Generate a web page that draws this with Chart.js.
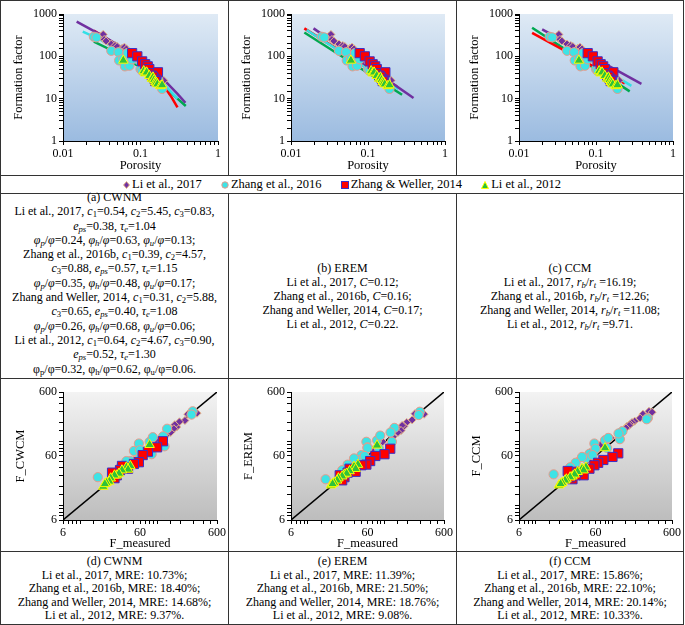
<!DOCTYPE html>
<html>
<head>
<meta charset="utf-8">
<script src="https://cdn.jsdelivr.net/npm/chart.js@4.4.1/dist/chart.umd.min.js"></script>
<style>
  body { margin: 0; background: #fff; font-family: "Liberation Serif", "Times New Roman", serif; color: #000; }
  #page { position: relative; width: 685px; height: 625px; overflow: hidden; }
  .hl { position: absolute; height: 1px; background: #333; }
  .vl { position: absolute; width: 1px; background: #333; }
  canvas { position: absolute; }
  .txt { position: absolute; text-align: center; font-size: 12px; white-space: nowrap; }
  .txt sub { font-size: 0.72em; line-height: 0; vertical-align: -0.25em; }
  #legend { position: absolute; left: 1px; top: 176px; width: 682px; height: 17px; line-height: 17px;
            font-size: 12.5px; text-align: center; white-space: nowrap; }
  #legend span.item { margin: 0 8px; }
  #legend svg { vertical-align: -1px; margin-right: 2px; }
</style>
</head>
<body>
<div id="page">
  <!-- table rules -->
  <div class="hl" style="left:0;top:0;width:684px"></div>
  <div class="hl" style="left:0;top:175px;width:684px"></div>
  <div class="hl" style="left:0;top:193px;width:684px"></div>
  <div class="hl" style="left:0;top:378px;width:684px"></div>
  <div class="hl" style="left:0;top:551px;width:684px"></div>
  <div class="hl" style="left:0;top:624px;width:684px"></div>
  <div class="vl" style="left:0;top:0;height:625px"></div>
  <div class="vl" style="left:683px;top:0;height:625px"></div>
  <div class="vl" style="left:228px;top:0;height:175px"></div>
  <div class="vl" style="left:456px;top:0;height:175px"></div>
  <div class="vl" style="left:228px;top:193px;height:432px"></div>
  <div class="vl" style="left:456px;top:193px;height:432px"></div>

  <canvas id="topA" width="227" height="174" style="left:1px;top:1px"></canvas>
  <canvas id="topB" width="226" height="174" style="left:229px;top:1px"></canvas>
  <canvas id="topC" width="226" height="174" style="left:457px;top:1px"></canvas>

  <div id="legend">
    <span class="item"><svg width="7" height="8"><polygon points="3.5,0.5 6.5,4 3.5,7.5 0.5,4" fill="#7030a0" stroke="#e8b888" stroke-width="1"/></svg>Li et al., 2017</span>
    <span class="item"><svg width="8" height="8"><circle cx="4" cy="4" r="3.2" fill="#3ee3e6" stroke="#e89a8a" stroke-width="1"/></svg>Zhang et al., 2016</span>
    <span class="item"><svg width="8" height="8"><rect x="0.5" y="0.5" width="7" height="7" fill="#ff0000" stroke="#3a2ec8" stroke-width="1"/></svg>Zhang &amp; Weller, 2014</span>
    <span class="item"><svg width="8" height="8"><polygon points="4,0.5 7.5,7.5 0.5,7.5" fill="#2ec23a" stroke="#ffff00" stroke-width="1"/></svg>Li et al., 2012</span>
  </div>

  <div class="txt" style="left:1px;top:190px;width:227px;line-height:14.3px">
    (a) CWNM<br>
    Li et al., 2017, <i>c</i><sub>1</sub>=0.54, <i>c</i><sub>2</sub>=5.45, <i>c</i><sub>3</sub>=0.83,<br>
    <i>e<sub>ps</sub></i>=0.38, <i>τ<sub>e</sub></i>=1.04<br>
    <i>φ<sub>p</sub></i>/<i>φ</i>=0.24, <i>φ<sub>h</sub></i>/<i>φ</i>=0.63, <i>φ<sub>u</sub></i>/<i>φ</i>=0.13;<br>
    Zhang et al., 2016b, <i>c</i><sub>1</sub>=0.39, <i>c</i><sub>2</sub>=4.57,<br>
    <i>c</i><sub>3</sub>=0.88, <i>e<sub>ps</sub></i>=0.57, <i>τ<sub>e</sub></i>=1.15<br>
    <i>φ<sub>p</sub></i>/<i>φ</i>=0.35, <i>φ<sub>h</sub></i>/<i>φ</i>=0.48, <i>φ<sub>u</sub></i>/<i>φ</i>=0.17;<br>
    Zhang and Weller, 2014, <i>c</i><sub>1</sub>=0.31, <i>c</i><sub>2</sub>=5.88,<br>
    <i>c</i><sub>3</sub>=0.65, <i>e<sub>ps</sub></i>=0.40, <i>τ<sub>e</sub></i>=1.08<br>
    <i>φ<sub>p</sub></i>/<i>φ</i>=0.26, <i>φ<sub>h</sub></i>/<i>φ</i>=0.68, <i>φ<sub>u</sub></i>/<i>φ</i>=0.06;<br>
    Li et al., 2012, <i>c</i><sub>1</sub>=0.64, <i>c</i><sub>2</sub>=4.67, <i>c</i><sub>3</sub>=0.90,<br>
    <i>e<sub>ps</sub></i>=0.52, <i>τ<sub>e</sub></i>=1.30<br>
    φ<sub>p</sub>/φ=0.32, φ<sub>h</sub>/φ=0.62, φ<sub>u</sub>/φ=0.06.
  </div>
  <div class="txt" style="left:229px;top:261px;width:227px;line-height:14px">
    (b) EREM<br>
    Li et al., 2017, <i>C</i>=0.12;<br>
    Zhang et al., 2016b, <i>C</i>=0.16;<br>
    Zhang and Weller, 2014, <i>C</i>=0.17;<br>
    Li et al., 2012, <i>C</i>=0.22.
  </div>
  <div class="txt" style="left:457px;top:261px;width:226px;line-height:14px">
    (c) CCM<br>
    Li et al., 2017, <i>r<sub>b</sub></i>/<i>r<sub>t</sub></i> =16.19;<br>
    Zhang et al., 2016b, <i>r<sub>b</sub></i>/<i>r<sub>t</sub></i> =12.26;<br>
    Zhang and Weller, 2014, <i>r<sub>b</sub></i>/<i>r<sub>t</sub></i> =11.08;<br>
    Li et al., 2012, <i>r<sub>b</sub></i>/<i>r<sub>t</sub></i> =9.71.
  </div>

  <canvas id="botD" width="227" height="172" style="left:1px;top:379px"></canvas>
  <canvas id="botE" width="226" height="172" style="left:229px;top:379px"></canvas>
  <canvas id="botF" width="226" height="172" style="left:457px;top:379px"></canvas>

  <div class="txt" style="left:1px;top:555px;width:227px;line-height:13.6px">
    (d) CWNM<br>Li et al., 2017, MRE: 10.73%;<br>Zhang et al., 2016b, MRE: 18.40%;<br>Zhang and Weller, 2014, MRE: 14.68%;<br>Li et al., 2012, MRE: 9.37%.
  </div>
  <div class="txt" style="left:229px;top:555px;width:227px;line-height:13.6px">
    (e) EREM<br>Li et al., 2017, MRE: 11.39%;<br>Zhang et al., 2016b, MRE: 21.50%;<br>Zhang and Weller, 2014, MRE: 18.76%;<br>Li et al., 2012, MRE: 9.08%.
  </div>
  <div class="txt" style="left:457px;top:555px;width:226px;line-height:13.6px">
    (f) CCM<br>Li et al., 2017, MRE: 15.86%;<br>Zhang et al., 2016b, MRE: 22.10%;<br>Zhang and Weller, 2014, MRE: 20.14%;<br>Li et al., 2012, MRE: 10.33%.
  </div>
</div>

<script>
// ---- measured samples: porosity and formation factor ----
const li17Poro = [0.031, 0.033, 0.034, 0.036, 0.042, 0.047, 0.050, 0.058, 0.062, 0.066, 0.070, 0.085, 0.100, 0.120, 0.140, 0.160, 0.200];
const li17F    = [300, 330, 250, 230, 195, 180, 170, 155, 165, 150, 130, 95, 70, 50, 38, 32, 27];
const zh16Poro = [0.025, 0.027, 0.042, 0.052, 0.053, 0.060, 0.063, 0.068, 0.072, 0.078, 0.100, 0.105, 0.110, 0.125, 0.135, 0.150, 0.170, 0.190];
const zh16F    = [290, 280, 135, 125, 80, 88, 58, 120, 60, 85, 50, 45, 60, 55, 40, 33, 28, 17];
const zw14Poro = [0.078, 0.091, 0.105, 0.115, 0.124, 0.130, 0.135, 0.168, 0.140, 0.150, 0.145, 0.160, 0.155];
const zw14F    = [119, 100, 76, 65, 58, 50, 40, 42, 35, 30, 33, 28, 26];
const li12Poro = [0.060, 0.110, 0.115, 0.120, 0.130, 0.140, 0.145, 0.150, 0.155, 0.160, 0.165, 0.180, 0.190];
const li12F    = [80, 45, 40, 42, 35, 30, 32, 28, 25, 24, 22, 20, 21];

// ---- model predictions (same sample order) ----
const li17CWNM = [290, 280, 270, 215, 205, 170, 185, 150, 160, 140, 125, 105, 68, 52, 40, 34, 29];
const zh16CWNM = [300, 266, 160, 85, 100, 118, 94, 122, 58, 64, 72, 50, 74, 46, 50, 40, 32, 28];
const zw14CWNM = [102, 82, 70, 62, 48, 45, 40, 38, 42, 30, 36, 27, 33];
const li12CWNM = [90, 42, 40, 37, 36, 30, 32, 30, 27, 24, 23, 20, 22];

const li17EREM = [285, 270, 275, 220, 200, 175, 180, 155, 150, 140, 120, 100, 75, 55, 42, 35, 30];
const zh16EREM = [295, 262, 165, 100, 106, 125, 100, 140, 82, 78, 62, 52, 80, 60, 55, 44, 36, 26];
const zw14EREM = [78, 64, 60, 50, 44, 43, 36, 34, 38, 28, 33, 25, 30];
const li12EREM = [88, 44, 41, 38, 35, 31, 32, 29, 27, 25, 23, 21, 22];

const li17CCM = [300, 290, 270, 235, 210, 200, 190, 175, 180, 165, 150, 115, 90, 68, 56, 47, 40];
const zh16CCM = [235, 225, 146, 110, 106, 115, 94, 135, 76, 80, 65, 55, 78, 62, 58, 47, 40, 31];
const zw14CCM = [66, 58, 52, 47, 43, 38, 32, 30, 34, 26, 30, 28, 35];
const li12CCM = [80, 40, 38, 36, 34, 29, 31, 28, 26, 25, 23, 21, 22];

// ---- model curves F(porosity) ----
const cwnmLi17Poro = [0.015, 0.03, 0.05, 0.1, 0.2, 0.3, 0.38];
const cwnmLi17F    = [660, 330, 190, 80, 28, 13, 8];
const cwnmZh16Poro = [0.018, 0.03, 0.05, 0.1, 0.2, 0.3];
const cwnmZh16F    = [383, 250, 140, 60, 22, 10];
const cwnmZw14Poro = [0.025, 0.05, 0.1, 0.15, 0.2, 0.25, 0.3];
const cwnmZw14F    = [405, 185, 70, 37, 20, 11, 6.2];
const cwnmLi12Poro = [0.025, 0.05, 0.1, 0.2, 0.3, 0.384];
const cwnmLi12F    = [224, 120, 55, 20, 10, 6.7];

const eremLi17Poro = [0.0196, 0.39];
const eremLi17F    = [457, 10.4];
const eremZh16Poro = [0.016, 0.25];
const eremZh16F    = [420, 17];
const eremZw14Poro = [0.0149, 0.238];
const eremZw14F    = [457, 19.3];
const eremLi12Poro = [0.0149, 0.277];
const eremLi12F    = [366, 12.4];

const ccmLi17Poro = [0.02, 0.389];
const ccmLi17F    = [432, 22.4];
const ccmZh16Poro = [0.025, 0.288];
const ccmZh16F    = [321, 20];
const ccmZw14Poro = [0.0148, 0.236];
const ccmZw14F    = [359, 23];
const ccmLi12Poro = [0.0148, 0.274];
const ccmLi12F    = [472, 14.9];

// ---- axes ----
const poroTicks = [0.01, 0.1, 1];
const ffTicks = [1, 10, 100, 1000];
const fitTicks = [6, 60, 600];
const oneToOne = [6, 600];

const FONT = '"Liberation Serif", "Times New Roman", serif';
Chart.defaults.font.family = FONT;
Chart.defaults.color = '#000';

const pts = (xs, ys) => xs.map((x, i) => ({ x, y: ys[i] }));

const markers = [
  { pointStyle: 'rectRot',  pointRadius: 4,   backgroundColor: '#7030a0', borderColor: '#e8b888', order: 4 },
  { pointStyle: 'circle',   pointRadius: 4.6, backgroundColor: '#3ee3e6', borderColor: '#e89a8a', order: 3 },
  { pointStyle: 'rect',     pointRadius: 6.5, backgroundColor: '#ff0000', borderColor: '#3a2ec8', order: 2 },
  { pointStyle: 'triangle', pointRadius: 5.5, backgroundColor: '#2ec23a', borderColor: '#ffff00', order: 1 }
];
const lineColors = ['#7030a0', '#33e0e6', '#ff0000', '#00a850'];

const measuredPoro = [li17Poro, zh16Poro, zw14Poro, li12Poro];
const measuredF = [li17F, zh16F, zw14F, li12F];

const plotBg = {
  id: 'plotBg',
  beforeDraw(chart, args, opts) {
    const { ctx, chartArea: a } = chart;
    const g = ctx.createLinearGradient(0, a.top, 0, a.bottom);
    g.addColorStop(0, opts.top);
    g.addColorStop(1, opts.bottom);
    ctx.save();
    ctx.fillStyle = g;
    ctx.fillRect(a.left, a.top, a.right - a.left, a.bottom - a.top);
    ctx.restore();
  }
};

function logAxis(min, max, labels, title, titlePad, fit) {
  return {
    type: 'logarithmic',
    min, max,
    title: { display: true, text: title, color: '#000', font: { size: 12.5 }, padding: titlePad },
    ticks: {
      autoSkip: false, maxRotation: 0, color: '#000', padding: 2,
      font: { size: 12 },
      callback: v => {
        const hit = labels.find(l => Math.abs(v / l - 1) < 1e-6);
        return hit !== undefined ? String(hit) : '';
      }
    },
    grid: { drawOnChartArea: false, drawTicks: true, tickLength: 4, color: '#000' },
    border: { display: true, color: '#000', width: 1 },
    afterFit: fit
  };
}

function scatterSets(xsList, ysList) {
  return xsList.map((xs, i) => Object.assign({
    data: pts(xs, ysList[i]),
    borderWidth: 1,
    showLine: false
  }, markers[i]));
}

function makeTop(id, curvesPoro, curvesF) {
  const lines = curvesPoro.map((xs, i) => ({
    data: pts(xs, curvesF[i]),
    showLine: true,
    borderColor: lineColors[i],
    borderWidth: 2.5,
    pointRadius: 0,
    order: 10
  }));
  new Chart(document.getElementById(id), {
    type: 'scatter',
    data: { datasets: lines.concat(scatterSets(measuredPoro, measuredF)) },
    options: {
      responsive: false, animation: false, events: [],
      layout: { padding: { top: 13, right: 10, left: 0, bottom: 0 } },
      plugins: { legend: { display: false }, tooltip: { enabled: false },
                 plotBg: { top: '#dfeaf5', bottom: '#9bbbe0' } },
      scales: {
        x: logAxis(0.01, 1, poroTicks, 'Porosity', { top: 0, bottom: 2 }, s => { s.height = 34; }),
        y: logAxis(1, 1000, ffTicks, 'Formation factor', { top: 10, bottom: 0 }, s => { s.width = 62; })
      }
    },
    plugins: [plotBg]
  });
}

function makeBottom(id, preds, yTitle) {
  const diag = {
    data: pts(oneToOne, oneToOne),
    showLine: true, borderColor: '#000', borderWidth: 1.5, pointRadius: 0, order: 10
  };
  new Chart(document.getElementById(id), {
    type: 'scatter',
    data: { datasets: [diag].concat(scatterSets(measuredF, preds)) },
    options: {
      responsive: false, animation: false, events: [],
      layout: { padding: { top: 13, right: 10, left: 0, bottom: 0 } },
      plugins: { legend: { display: false }, tooltip: { enabled: false },
                 plotBg: { top: '#f3f3f3', bottom: '#bdbdbd' } },
      scales: {
        x: logAxis(6, 600, fitTicks, 'F_measured', { top: 0, bottom: 0 }, s => { s.height = 31; }),
        y: logAxis(6, 600, fitTicks, yTitle, { top: 12, bottom: 0 }, s => { s.width = 62; })
      }
    },
    plugins: [plotBg]
  });
}

makeTop('topA', [cwnmLi17Poro, cwnmZh16Poro, cwnmZw14Poro, cwnmLi12Poro], [cwnmLi17F, cwnmZh16F, cwnmZw14F, cwnmLi12F]);
makeTop('topB', [eremLi17Poro, eremZh16Poro, eremZw14Poro, eremLi12Poro], [eremLi17F, eremZh16F, eremZw14F, eremLi12F]);
makeTop('topC', [ccmLi17Poro, ccmZh16Poro, ccmZw14Poro, ccmLi12Poro], [ccmLi17F, ccmZh16F, ccmZw14F, ccmLi12F]);

makeBottom('botD', [li17CWNM, zh16CWNM, zw14CWNM, li12CWNM], 'F_CWCM');
makeBottom('botE', [li17EREM, zh16EREM, zw14EREM, li12EREM], 'F_EREM');
makeBottom('botF', [li17CCM, zh16CCM, zw14CCM, li12CCM], 'F_CCM');
</script>
</body>
</html>
